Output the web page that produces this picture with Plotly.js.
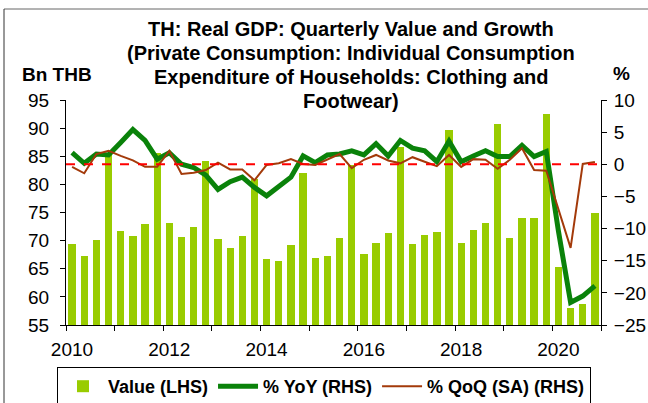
<!DOCTYPE html>
<html>
<head>
<meta charset="utf-8">
<script src="https://cdn.plot.ly/plotly-3.0.1.min.js"></script>
<style>
  html, body { margin: 0; padding: 0; background: #ffffff; }
  #chart { width: 648px; height: 403px; }
</style>
</head>
<body>
<div id="chart"></div>
<script>
// ---- Data ----
var years = [2010, 2011, 2012, 2013, 2014, 2015, 2016, 2017, 2018, 2019, 2020];
var quarterLabels = [];
years.forEach(function (y) { for (var q = 1; q <= 4; q++) quarterLabels.push(y + 'Q' + q); });

// Value (LHS), Bn THB
var valueLHS = [
  69.4, 67.2, 70.2, 85.3,
  71.8, 70.9, 72.9, 85.6,
  73.1, 70.7, 72.4, 84.2,
  70.3, 68.7, 70.9, 81.0,
  66.8, 66.4, 69.3, 82.0,
  66.9, 67.3, 70.4, 83.4,
  67.7, 69.5, 71.4, 86.7,
  69.4, 71.0, 71.6, 89.7,
  69.6, 71.9, 73.1, 90.7,
  70.5, 74.0, 74.0, 92.5,
  65.3, 58.1, 58.7, 74.9
];
// % YoY (RHS)
var yoyRHS = [
  1.8, 0.15, 1.6, 1.45,
  3.4, 5.4, 3.7, 0.8,
  1.8, 0.0, -0.5, -1.7,
  -3.9, -2.7, -2.0, -3.6,
  -4.9, -3.4, -2.0, 1.3,
  0.25, 1.45, 1.6, 2.1,
  1.45, 3.2, 1.3, 3.7,
  2.5, 2.1, 0.4, 3.6,
  0.4, 1.3, 2.1, 1.2,
  1.2, 2.95, 1.2, 2.0,
  -10.4, -21.5, -20.5, -18.9
];
// % QoQ (SA) (RHS)
var qoqRHS = [
  -0.4, -1.4, 1.6, 2.1,
  1.3, 0.6, -0.4, -0.4,
  2.1, -1.5, -1.3, -0.9,
  0.25, -0.8, -0.8, -2.5,
  -0.1, 0.15, 0.8, 0.05,
  -0.1, 0.8, 1.6, -0.6,
  0.7, 1.45, 0.6, 0.15,
  1.1, 0.4, -0.3, 1.45,
  -0.4, 0.8, 0.7, -0.7,
  0.7, 2.5, -0.9, -1.0,
  -7.0, -13.0, 0.05, 0.35
];
var xTickVals = [2010, 2011, 2012, 2013, 2014, 2015, 2016, 2017, 2018, 2019, 2020, 2021];
var xTickText = ['2010', '', '2012', '', '2014', '', '2016', '', '2018', '', '2020', ''];
var titleLines = [
  'TH: Real GDP: Quarterly Value and Growth',
  '(Private Consumption: Individual Consumption',
  'Expenditure of Households: Clothing and',
  'Footwear)'
];
var leftAxisTitle = 'Bn THB';
var rightAxisTitle = '%';

// quarter label -> position at the middle of the quarter on a year axis
function quarterPos(label) {
  var y = parseInt(label.slice(0, 4), 10);
  var q = parseInt(label.slice(5), 10);
  return y + (q - 0.5) / 4;
}
var xPos = quarterLabels.map(quarterPos);

var FONT = 'Arial, "Liberation Sans", sans-serif';
var W = 648, H = 403;
var M = { l: 66, r: 47, t: 100, b: 78 };
var PW = W - M.l - M.r, PH = H - M.t - M.b;
function px2paperX(px) { return (px - M.l) / PW; }
function px2paperY(py) { return (H - M.b - py) / PH; }

var traces = [
  {
    type: 'bar', name: 'Value (LHS)', x: xPos, y: valueLHS,
    width: 0.15, marker: { color: '#99cc00', line: { width: 0 } },
    yaxis: 'y', hoverinfo: 'skip'
  },
  {
    type: 'scatter', mode: 'lines', name: '% YoY (RHS)', x: xPos, y: yoyRHS,
    line: { color: '#0a820a', width: 5 }, yaxis: 'y2', hoverinfo: 'skip'
  },
  {
    type: 'scatter', mode: 'lines', name: '% QoQ (SA) (RHS)', x: xPos, y: qoqRHS,
    line: { color: '#a33a0a', width: 2 }, yaxis: 'y2', hoverinfo: 'skip'
  }
];

var annotations = [
  { text: '<b>' + leftAxisTitle + '</b>', xref: 'paper', yref: 'paper', x: px2paperX(57), y: px2paperY(75),
    xanchor: 'center', yanchor: 'middle', showarrow: false,
    font: { family: FONT, size: 19, color: '#000' } },
  { text: '<b>' + rightAxisTitle + '</b>', xref: 'paper', yref: 'paper', x: px2paperX(621), y: px2paperY(74),
    xanchor: 'center', yanchor: 'middle', showarrow: false,
    font: { family: FONT, size: 19, color: '#000' } }
];
var titleLineY = [29, 53, 77, 101];
titleLines.forEach(function (t, i) {
  annotations.push({
    text: '<b>' + t + '</b>', xref: 'paper', yref: 'paper',
    x: px2paperX(351), y: px2paperY(titleLineY[i]),
    xanchor: 'center', yanchor: 'middle', showarrow: false,
    font: { family: FONT, size: 20, color: '#000' }
  });
});

var layout = {
  width: W, height: H,
  margin: M,
  paper_bgcolor: '#ffffff', plot_bgcolor: '#ffffff',
  font: { family: FONT, size: 19, color: '#000000' },
  showlegend: true,
  bargap: 0,
  xaxis: {
    range: [2010, 2021], tickmode: 'array', tickvals: xTickVals, ticktext: xTickText,
    ticks: 'outside', ticklen: 5, tickwidth: 1, tickcolor: '#000',
    showline: true, linecolor: '#000', linewidth: 1, showgrid: false, zeroline: false,
    tickfont: { family: FONT, size: 19, color: '#000' },
    ticklabelshift: 6, ticklabelstandoff: 2, automargin: false
  },
  yaxis: {
    range: [55, 95], dtick: 5, tick0: 55,
    ticks: 'outside', ticklen: 5, tickwidth: 1, tickcolor: '#000',
    showline: true, linecolor: '#000', linewidth: 1, showgrid: false, zeroline: false,
    tickfont: { family: FONT, size: 19, color: '#000' },
    ticklabelstandoff: 7, automargin: false
  },
  yaxis2: {
    range: [-25, 10], dtick: 5, tick0: -25, overlaying: 'y', side: 'right',
    ticks: 'outside', ticklen: 5, tickwidth: 1, tickcolor: '#000',
    showline: true, linecolor: '#000', linewidth: 1, showgrid: false, zeroline: false,
    tickfont: { family: FONT, size: 19, color: '#000' },
    ticklabelstandoff: 3, automargin: false
  },
  legend: {
    orientation: 'h',
    xref: 'container', x: 324 / W, xanchor: 'center',
    yref: 'container', y: (H - 367) / H, yanchor: 'top',
    bordercolor: '#000', borderwidth: 1, bgcolor: '#ffffff',
    font: { family: FONT, size: 18, color: '#000', weight: 'bold' },
    itemwidth: 40, tracegroupgap: 0, traceorder: 'normal'
  },
  shapes: [
    { type: 'line', xref: 'paper', x0: 0, x1: 1, yref: 'y2', y0: 0, y1: 0,
      line: { color: '#ff0000', width: 2, dash: 'dash' } },
    // outer frame (top + left edges visible in the reference)
    { type: 'line', xref: 'paper', yref: 'paper',
      x0: px2paperX(4), x1: px2paperX(660), y0: px2paperY(9), y1: px2paperY(9),
      line: { color: '#666', width: 1 } },
    { type: 'line', xref: 'paper', yref: 'paper',
      x0: px2paperX(4), x1: px2paperX(4), y0: px2paperY(9), y1: px2paperY(420),
      line: { color: '#333', width: 1 } }
  ],
  annotations: annotations
};

Plotly.newPlot('chart', traces, layout, { staticPlot: true, displayModeBar: false });
</script>
</body>
</html>
